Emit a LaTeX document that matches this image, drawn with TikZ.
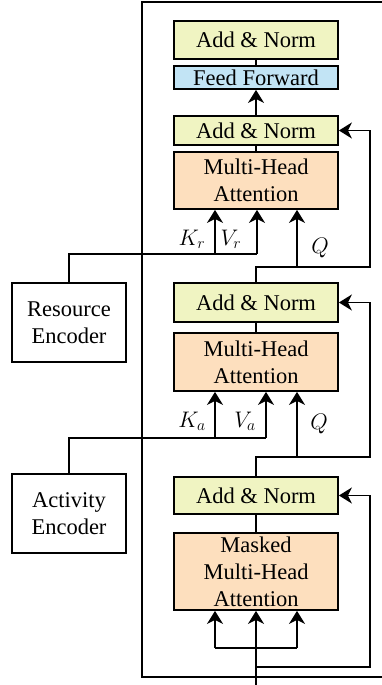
\RequirePackage{fix-cm}
\documentclass[tikz,border=0pt]{standalone}
\usepackage{fontspec}
\setmainfont{Liberation Serif}
\usetikzlibrary{arrows.meta}
\definecolor{normfill}{RGB}{240,244,194}
\definecolor{fffill}{RGB}{194,228,245}
\definecolor{attfill}{RGB}{253,223,190}
\newcommand{\diagfont}{\fontsize{22.5}{27}\selectfont}
\begin{document}
\begin{tikzpicture}[x=1pt,y=-1pt,
  every node/.style={font=\diagfont},
  wire/.style={line width=1.8pt},
  arr/.style={wire,-{Stealth[length=13pt,width=16pt,inset=4pt]}},
  box/.style={draw,line width=1.8pt,inner sep=0pt,align=center,minimum width=164pt},
  normbox/.style={box,fill=normfill},
  ffbox/.style={box,fill=fffill},
  attbox/.style={box,fill=attfill},
  encbox/.style={draw,line width=1.8pt,inner sep=0pt,align=center,fill=white,minimum width=114pt,minimum height=79pt},
  lbl/.style={inner sep=0pt}]
\useasboundingbox (0,0) rectangle (381,685);

% outer decoder frame, open to the right
\draw[wire] (382,2) -- (142,2) -- (142,677) -- (382,677);

% decoder stack
\node[normbox,minimum height=38pt] (an1) at (256,40) {Add \& Norm};
\node[ffbox,minimum height=23pt] (ff) at (256,77.5) {Feed Forward};
\node[normbox,minimum height=29pt] (an2) at (256,130.5) {Add \& Norm};
\node[attbox,minimum height=57pt] (mha1) at (256,180.5) {Multi-Head\\Attention};
\node[normbox,minimum height=39pt] (an3) at (256,302.5) {Add \& Norm};
\node[attbox,minimum height=58pt] (mha2) at (256,362) {Multi-Head\\Attention};
\node[normbox,minimum height=37pt] (an4) at (256,495.5) {Add \& Norm};
\node[attbox,minimum height=77pt] (mmha) at (256,571.5) {Masked\\Multi-Head\\Attention};

% encoders
\node[encbox] (res) at (69,322.5) {Resource\\Encoder};
\node[encbox] (act) at (69,513.5) {Activity\\Encoder};

% links inside the blocks
\draw[wire] (an1.south) -- (ff.north);
\draw[arr] (an2.north) -- (ff.south);
\draw[wire] (an2.south) -- (mha1.north);
\draw[wire] (an3.south) -- (mha2.north);
\draw[wire] (an4.south) -- (mmha.north);

% input, masked self-attention and its residual
\coordinate (in) at (256,685);
\coordinate (bl) at (215,648);
\coordinate (bq) at (297,648);
\coordinate (r0) at (256,667);
\draw[arr] (in) -- (mmha.south);
\draw[wire] (bl) -- (bq);
\draw[arr] (bl) -- (bl |- mmha.south);
\draw[arr] (bq) -- (bq |- mmha.south);
\draw[arr] (r0) -- (370,667) |- (an4.east);

% activity cross-attention
\coordinate (q2) at (256,457);
\coordinate (q2x) at (297,457);
\draw[arr] (an4.north) -- (q2) -- (370,457) |- (an3.east);
\draw[arr] (q2x) -- (q2x |- mha2.south);
\coordinate (ka) at (215,438);
\coordinate (va) at (266,438);
\draw[wire] (act.north) |- (va);
\draw[arr] (ka) -- (ka |- mha2.south);
\draw[arr] (va) -- (va |- mha2.south);
\node[lbl] (lka) at (192,421) {$K_a$};
\node[lbl] (lva) at (245,421) {$V_a$};
\node[lbl] (lqa) at (319,424) {$Q$};

% resource cross-attention
\coordinate (q1) at (256,267);
\coordinate (q1x) at (297,267);
\draw[arr] (an3.north) -- (q1) -- (370,267) |- (an2.east);
\draw[arr] (q1x) -- (q1x |- mha1.south);
\coordinate (kr) at (215,254);
\coordinate (vr) at (257,254);
\draw[wire] (res.north) |- (vr);
\draw[arr] (kr) -- (kr |- mha1.south);
\draw[arr] (vr) -- (vr |- mha1.south);
\node[lbl] (lkr) at (192,239) {$K_r$};
\node[lbl] (lvr) at (231,239) {$V_r$};
\node[lbl] (lqr) at (320,248) {$Q$};
\end{tikzpicture}
\end{document}
